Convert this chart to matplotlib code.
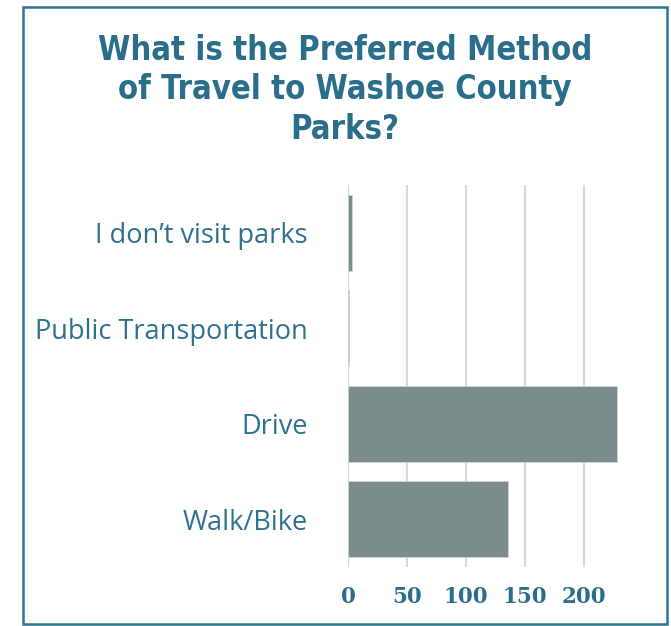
import matplotlib
matplotlib.use("Agg")
import matplotlib.pyplot as plt
from matplotlib.patches import Rectangle

categories = ["I don\u2019t visit parks", "Public Transportation", "Drive", "Walk/Bike"]
values = [3, 1, 228, 136]
xticks = [0, 50, 100, 150, 200]
title = "What is the Preferred Method\nof Travel to Washoe County\nParks?"

W, H = 671, 626
fig = plt.figure(figsize=(W / 100, H / 100), dpi=100)

ax = fig.add_axes([348 / W, 1 - 567 / H, (619 - 348) / W, (567 - 185) / H])
ypos = list(range(len(categories)))
ax.barh(ypos, values, height=0.8, color="#7B8C8D", edgecolor="#D0D4D4", linewidth=0.6, zorder=3)
ax.set_ylim(len(categories) - 0.5, -0.5)
ax.set_xlim(0, 230)
ax.set_xticks(xticks)
ax.set_xticklabels([str(t) for t in xticks], fontfamily=["DejaVu Serif"], fontweight="bold",
                   fontsize=15.5, color="#2B6E8A")
ax.set_yticks(ypos)
ax.set_yticklabels(categories, fontfamily=["Open Sans", "DejaVu Sans"], fontsize=19.5, color="#2F7290")
ax.tick_params(axis="both", length=0)
ax.tick_params(axis="y", pad=29)
ax.tick_params(axis="x", pad=14)
ax.grid(axis="x", color="#D9D9D9", linewidth=1.5, zorder=0)
for s in ax.spines.values():
    s.set_visible(False)

fig.text(345 / W, 1 - 90 / H, title, ha="center", va="center", fontsize=23.5, fontweight="bold",
         fontfamily=["DejaVu Sans"], fontstretch="condensed", color="#2A6E8B", linespacing=1.26)

fig.patches.append(Rectangle((22.5 / W, 1 - 624 / H), (667 - 22.5) / W, (624 - 7) / H,
                             transform=fig.transFigure, fill=False, edgecolor="#2E7390", linewidth=1.8))

fig.savefig("out.png", dpi=100)
